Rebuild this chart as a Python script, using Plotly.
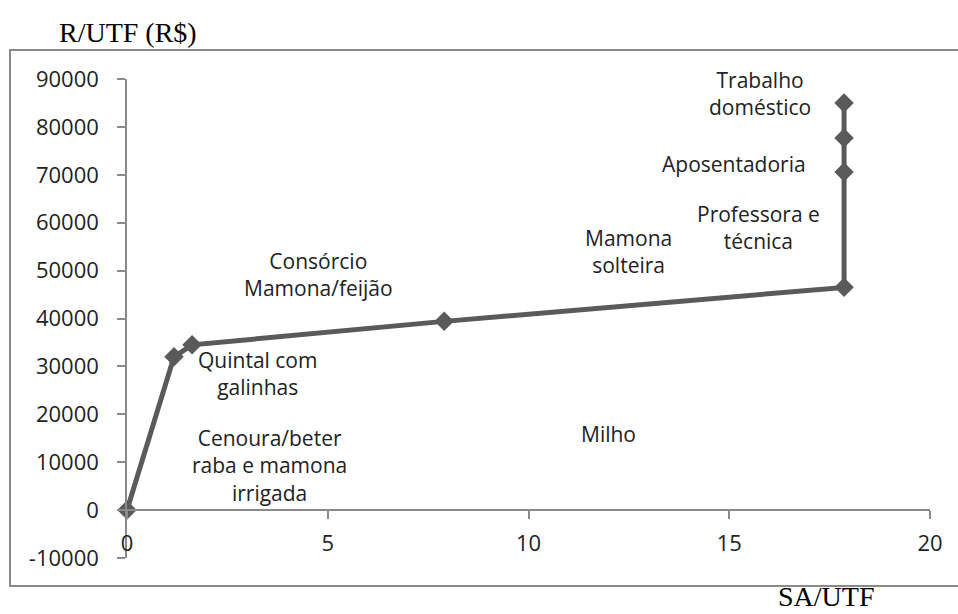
import plotly.graph_objects as go

# Cumulative area (SA/UTF) and income (R/UTF, R$) for each activity step
sa_utf = [0, 1.17, 1.62, 7.9, 17.86, 17.86, 17.86, 17.86]
r_utf = [0, 32000, 34500, 39400, 46500, 70600, 77700, 85000]

# Activity labels and where they sit on the chart (data coordinates)
activity_labels = [
    "Trabalho<br>doméstico",
    "Aposentadoria",
    "Professora e<br>técnica",
    "Mamona<br>solteira",
    "Consórcio<br>Mamona/feijão",
    "Quintal com<br>galinhas",
    "Cenoura/beter<br>raba e mamona<br>irrigada",
    "Milho",
]
label_x = [15.77, 15.12, 15.72, 12.48, 4.76, 3.24, 3.56, 11.98]
label_y = [86900, 72300, 59000, 54000, 49200, 28500, 9400, 15800]

x_ticks = [0, 5, 10, 15, 20]
y_ticks = [-10000, 0, 10000, 20000, 30000, 40000, 50000, 60000, 70000, 80000, 90000]

LINE_GREY = "#5a5a5a"
AXIS_GREY = "#8a8a8a"
TICK_FONT = dict(family="Open Sans", size=22, color="#222222")
LABEL_FONT = dict(family="Open Sans", size=21, color="#222222")
TITLE_FONT = dict(family="Liberation Serif", size=28, color="#000000")

fig = go.Figure()
fig.add_trace(go.Scatter(
    x=sa_utf, y=r_utf,
    mode="lines+markers",
    line=dict(color=LINE_GREY, width=5),
    marker=dict(symbol="diamond", size=15, color=LINE_GREY),
    cliponaxis=False,
    showlegend=False,
    hoverinfo="skip",
))

for text, lx, ly in zip(activity_labels, label_x, label_y):
    fig.add_annotation(x=lx, y=ly, text=text, showarrow=False,
                       xanchor="center", yanchor="middle", font=LABEL_FONT)

# Axis titles
fig.add_annotation(xref="paper", yref="paper", x=0.001, y=1.098,
                   text="R/UTF (R$)", showarrow=False,
                   xanchor="center", yanchor="middle", font=TITLE_FONT)
fig.add_annotation(xref="paper", yref="paper", x=0.8705, y=-0.0814,
                   text="SA/UTF", showarrow=False,
                   xanchor="center", yanchor="middle", font=TITLE_FONT)

# Chart-area frame
fig.add_shape(type="rect", xref="paper", yref="paper",
              x0=-0.1457, x1=1.04, y0=-0.0585, y1=1.0605,
              line=dict(color=AXIS_GREY, width=2), fillcolor="rgba(0,0,0,0)",
              layer="below")

y_min, y_max = -10000, 90000
fig.update_layout(
    width=958, height=614,
    margin=dict(l=127, r=28, t=79, b=56),
    paper_bgcolor="white", plot_bgcolor="white",
    xaxis=dict(
        range=[0, 20], tickvals=x_ticks, ticktext=[str(v) for v in x_ticks],
        showgrid=False, zeroline=False,
        showline=True, linecolor=AXIS_GREY, linewidth=1.5,
        ticks="outside", ticklen=8, tickcolor=AXIS_GREY, tickwidth=1.5,
        tickfont=TICK_FONT, ticklabelstandoff=6,
        anchor="free", position=(0 - y_min) / (y_max - y_min),
    ),
    yaxis=dict(
        range=[y_min, y_max], tickvals=y_ticks, ticktext=[str(v) for v in y_ticks],
        showgrid=False, zeroline=False,
        showline=True, linecolor=AXIS_GREY, linewidth=1.5,
        ticks="outside", ticklen=8, tickcolor=AXIS_GREY, tickwidth=1.5,
        tickfont=TICK_FONT, ticklabelstandoff=14,
        domain=[0, 1],
    ),
)

fig.write_html("out.html")
